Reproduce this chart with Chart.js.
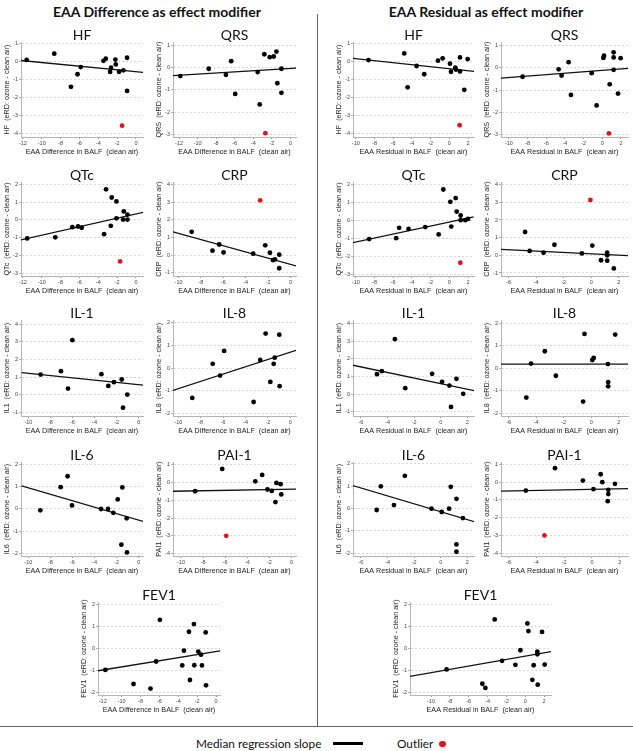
<!DOCTYPE html>
<html>
<head>
<meta charset="utf-8">
<script src="https://cdn.jsdelivr.net/npm/chart.js@4.4.1/dist/chart.umd.min.js"></script>
<style>
  html, body { margin: 0; padding: 0; background: #fff; }
  #page { position: relative; width: 633px; height: 751px; overflow: hidden; font-family: Lato, 'Liberation Sans', sans-serif; color: #111; }
  #page canvas { position: absolute; }
  .heading { position: absolute; top: 3px; width: 300px; text-align: center; font-weight: 700; font-size: 14px; }
  .vline { position: absolute; left: 317px; top: 14px; width: 1px; height: 713px; background: #666; }
  .hline { position: absolute; left: 0; top: 726px; width: 633px; height: 1px; background: #666; }
  .legend span { position: absolute; }
  .legend .txt { top: 735px; font-size: 11.8px; line-height: 17px; }
  .legend .bar { left: 333px; top: 742px; width: 30px; height: 3px; background: #000; }
  .legend .dot { left: 439px; top: 740.5px; width: 6.5px; height: 6.5px; border-radius: 50%; background: #e3131b; }
</style>
</head>
<body>
<div id="page">
  <div class="heading" style="left:7px">EAA Difference as effect modifier</div>
  <div class="heading" style="left:336px">EAA Residual as effect modifier</div>
  <div class="vline"></div>
  <div class="hline"></div>
  <div class="legend">
    <span class="txt" style="left:196px">Median regression slope</span>
    <span class="bar"></span>
    <span class="txt" style="left:397px">Outlier</span>
    <span class="dot"></span>
  </div>
</div>
<script>
// Tick values
const xTicksDiff12 = [-12, -10, -8, -6, -4, -2, 0];
const xTicksDiff10 = [-10, -8, -6, -4, -2, 0];
const xTicksRes10 = [-10, -8, -6, -4, -2, 0, 2];
const xTicksRes6 = [-6, -4, -2, 0, 2];
const yTicks4to1 = [-4, -3, -2, -1, 0, 1];
const yTicks3to1 = [-3, -2, -1, 0, 1];
const yTicks3to2 = [-3, -2, -1, 0, 1, 2];
const yTicks1to4 = [-1, 0, 1, 2, 3, 4];
const yTicks2to2 = [-2, -1, 0, 1, 2];

const diffLabel = 'EAA Difference in BALF  (clean air)';
const resLabel = 'EAA Residual in BALF  (clean air)';

// HF
const hfDiffX = [-11.6, -8.67, -6.9, -6.2, -5.86, -3.45, -3.2, -2.64, -2.74, -2.18, -2.14, -1.79, -1.33, -0.94, -0.94];
const hfDiffY = [0.1, 0.45, -1.4, -0.7, -0.3, 0.05, 0.17, -0.33, -0.57, 0.12, -0.15, -0.56, -0.48, 0.22, -1.63];
const hfDiffOutX = [-1.47], hfDiffOutY = [-3.57];
const hfDiffFitX = [-12.25, 0.8], hfDiffFitY = [0.07, -0.6];
const hfResX = [-8.64, -4.82, -4.46, -3.5, -2.68, -1.21, -0.71, 0.07, 0.18, 0.64, 0.71, 1.14, 1.14, 1.6, 1.96];
const hfResY = [0.09, 0.46, -1.43, -0.24, -0.7, 0.06, 0.19, -0.11, -0.56, -0.33, -0.44, -0.54, 0.24, -1.57, 0.15];
const hfResOutX = [1.1], hfResOutY = [-3.54];
const hfResFitX = [-10.64, 2.68], hfResFitY = [0.2, -0.54];

// QRS
const qrsDiffX = [-11.86, -8.8, -6.95, -6.38, -5.95, -3.53, -3.31, -2.81, -2.23, -1.8, -1.51, -1.41, -0.97, -0.97];
const qrsDiffY = [-0.39, -0.06, -0.33, 0.28, -1.19, -0.21, -1.66, 0.59, 0.46, 0.49, 0.71, -0.71, -0.06, -1.14];
const qrsDiffOutX = [-2.7], qrsDiffOutY = [-2.95];
const qrsDiffFitX = [-12.65, 0.6], qrsDiffFitY = [-0.37, -0.03];
const qrsResX = [-8.54, -4.68, -4.36, -3.61, -3.36, -1.14, -0.61, 0.18, 0.11, 0.79, 1.21, 1.21, 1.21, 1.68, 1.96];
const qrsResY = [-0.4, -0.07, -0.35, 0.25, -1.21, -0.24, -1.68, 0.54, 0.44, -0.74, 0.69, 0.46, -0.09, -1.15, 0.43];
const qrsResOutX = [0.71], qrsResOutY = [-2.93];
const qrsResFitX = [-10.86, 2.75], qrsResFitY = [-0.46, -0.03];

// QTc
const qtcDiffX = [-11.54, -8.56, -6.75, -6.15, -5.76, -3.38, -3.17, -2.67, -2.57, -2.07, -2.07, -1.29, -1.36, -0.9, -0.9];
const qtcDiffY = [-1.04, -0.98, -0.41, -0.37, -0.44, -0.8, 1.72, -0.33, 1.26, 1.04, 0.09, 0.48, 0.02, 0.3, 0.02];
const qtcDiffOutX = [-1.68], qtcDiffOutY = [-2.33];
const qtcDiffFitX = [-12.25, 0.8], qtcDiffFitY = [-1.13, 0.43];
const qtcResX = [-8.57, -5.68, -5.36, -4.36, -2.57, -1.14, -0.64, 0.11, 0.21, 0.68, 0.79, 1.21, 1.21, 1.71, 2.0];
const qtcResY = [-1.04, -0.99, -0.41, -0.47, -0.37, -0.78, 1.73, 1.04, -0.34, 1.25, 0.5, 0.28, 0.02, 0.02, 0.09];
const qtcResOutX = [1.18], qtcResOutY = [-2.36];
const qtcResFitX = [-10.7, 2.6], qtcResFitY = [-1.28, 0.2];

// CRP
const crpDiffX = [-8.83, -6.97, -6.37, -5.98, -3.33, -2.25, -1.83, -1.55, -1.38, -1.0, -1.0];
const crpDiffY = [1.32, 0.25, 0.6, 0.15, 0.08, 0.55, 0.13, -0.29, -0.25, 0.02, -0.75];
const crpDiffOutX = [-2.7], crpDiffOutY = [3.11];
const crpDiffFitX = [-10.5, 0.5], crpDiffFitY = [1.32, -0.62];
const crpResX = [-4.8, -4.47, -3.46, -2.67, -0.68, 0.08, 1.16, 1.16, 0.71, 1.16, 1.64];
const crpResY = [1.32, 0.25, 0.15, 0.6, 0.11, 0.55, 0.15, 0.0, -0.28, -0.3, -0.74];
const crpResOutX = [-0.06], crpResOutY = [3.13];
const crpResFitX = [-6.55, 2.67], crpResFitY = [0.34, -0.02];

// IL-1
const il1DiffX = [-8.88, -7.04, -6.4, -6.01, -3.38, -2.75, -2.24, -1.54, -1.03, -1.42];
const il1DiffY = [1.15, 1.34, 0.36, 3.09, 1.17, 0.51, 0.72, 0.87, 0.02, -0.72];
const il1DiffFitX = [-10.6, 0.48], il1DiffFitY = [1.26, 0.55];
const il1ResX = [-4.8, -4.43, -3.45, -2.67, -0.65, 0.1, 0.65, 1.18, 1.69, 0.77];
const il1ResY = [1.13, 1.3, 3.11, 0.34, 1.15, 0.7, 0.49, 0.87, 0.02, -0.72];
const il1ResFitX = [-6.75, 2.55], il1ResFitY = [1.66, 0.19];

// IL-8
const il8DiffX = [-8.75, -6.93, -6.27, -5.91, -3.28, -2.69, -2.21, -1.79, -1.49, -1.4, -0.99, -0.96];
const il8DiffY = [-1.32, 0.19, -0.33, 0.76, -1.5, 0.36, 1.53, -0.61, 0.19, 0.46, 1.48, -0.8];
const il8DiffFitX = [-10.5, 0.5], il8DiffFitY = [-0.99, 0.79];
const il8ResX = [-4.71, -4.37, -3.37, -2.57, -0.59, -0.49, 0.08, 0.18, 1.21, 1.23, 1.23, 1.74];
const il8ResY = [-1.3, 0.21, 0.76, -0.33, -1.48, 1.53, 0.37, 0.46, 0.19, -0.61, -0.8, 1.5];
const il8ResFitX = [-6.6, 2.7], il8ResFitY = [0.19, 0.19];

// IL-6
const il6DiffX = [-8.91, -7.07, -6.44, -6.04, -3.41, -2.78, -2.3, -1.9, -1.48, -1.09, -1.57, -1.06];
const il6DiffY = [-0.07, 0.97, 1.46, 0.15, -0.01, -0.01, -0.18, 0.42, 0.96, -0.43, -1.61, -1.96];
const il6DiffFitX = [-10.6, 0.48], il6DiffFitY = [1.03, -0.58];
const il6ResX = [-4.82, -4.51, -3.52, -2.7, -0.7, 0.07, 0.63, 0.75, 1.18, 1.66, 1.18, 1.18];
const il6ResY = [-0.07, 0.99, 0.15, 1.46, -0.01, -0.16, -0.01, 0.97, 0.43, -0.43, -1.61, -1.94];
const il6ResFitX = [-6.72, 2.55], il6ResFitY = [1.04, -0.6];

// PAI-1
const paiDiffX = [-8.72, -6.27, -3.28, -2.66, -2.18, -1.79, -1.46, -1.37, -0.99, -0.93];
const paiDiffY = [-0.49, 0.77, 0.07, 0.43, -0.39, -0.47, -1.1, -0.02, -0.09, -0.67];
const paiDiffOutX = [-5.91], paiDiffOutY = [-3.0];
const paiDiffFitX = [-10.72, 0.57], paiDiffFitY = [-0.49, -0.37];
const paiResX = [-4.76, -2.66, -0.65, 0.11, 0.63, 0.75, 1.18, 1.18, 1.14, 1.66];
const paiResY = [-0.47, 0.79, 0.09, -0.39, 0.45, 0.0, -0.43, -0.67, -1.07, -0.09];
const paiResOutX = [-3.42], paiResOutY = [-3.0];
const paiResFitX = [-6.72, 2.65], paiResFitY = [-0.5, -0.36];

// FEV1
const fevDiffX = [-11.72, -8.74, -6.94, -6.34, -5.95, -3.58, -3.4, -2.87, -2.76, -2.34, -2.3, -1.88, -1.59, -1.49, -1.1, -1.06];
const fevDiffY = [-0.98, -1.62, -1.83, -0.6, 1.29, -0.78, -0.11, 0.75, -1.44, 1.1, -0.77, -0.15, -0.29, -0.78, 0.72, -1.68];
const fevDiffFitX = [-12.5, 0.42], fevDiffFitY = [-1.02, -0.12];
const fevResX = [-8.34, -4.55, -4.23, -3.24, -2.46, -1.04, -0.51, 0.23, 0.34, 0.76, 0.9, 1.29, 1.29, 1.33, 1.79, 2.07];
const fevResY = [-0.96, -1.61, -1.8, 1.31, -0.57, -0.75, -0.09, 1.13, 0.78, -1.43, -0.77, -0.15, -0.27, -1.65, 0.74, -0.74];
const fevResFitX = [-12.3, 2.74], fevResFitY = [-1.28, -0.15];

// Panel layout: box = [plotLeft, plotRight, plotTop, plotBottom] in page px
const panels = [
  { title: 'HF', yName: 'HF', xTitle: diffLabel, x: hfDiffX, y: hfDiffY, outX: hfDiffOutX, outY: hfDiffOutY, fitX: hfDiffFitX, fitY: hfDiffFitY,
    xTicks: xTicksDiff12, yTicks: yTicks4to1, box: [21, 143, 42, 137], xr: [-12.2, 0.75], yr: [-4.2, 1.1] },
  { title: 'QRS', yName: 'QRS', xTitle: diffLabel, x: qrsDiffX, y: qrsDiffY, outX: qrsDiffOutX, outY: qrsDiffOutY, fitX: qrsDiffFitX, fitY: qrsDiffFitY,
    xTicks: xTicksDiff12, yTicks: yTicks3to1, box: [173, 296, 42, 137], xr: [-12.65, 0.6], yr: [-3.12, 1.14] },
  { title: 'HF', yName: 'HF', xTitle: resLabel, x: hfResX, y: hfResY, outX: hfResOutX, outY: hfResOutY, fitX: hfResFitX, fitY: hfResFitY,
    xTicks: xTicksRes10, yTicks: yTicks4to1, box: [353, 474, 42, 137], xr: [-10.3, 2.64], yr: [-4.2, 1.1] },
  { title: 'QRS', yName: 'QRS', xTitle: resLabel, x: qrsResX, y: qrsResY, outX: qrsResOutX, outY: qrsResOutY, fitX: qrsResFitX, fitY: qrsResFitY,
    xTicks: xTicksRes10, yTicks: yTicks3to1, box: [501, 628, 42, 137], xr: [-10.85, 2.75], yr: [-3.09, 1.15] },

  { title: 'QTc', yName: 'QTc', xTitle: diffLabel, x: qtcDiffX, y: qtcDiffY, outX: qtcDiffOutX, outY: qtcDiffOutY, fitX: qtcDiffFitX, fitY: qtcDiffFitY,
    xTicks: xTicksDiff12, yTicks: yTicks3to2, box: [21, 143, 182, 276], xr: [-12.2, 0.75], yr: [-3.15, 2.13] },
  { title: 'CRP', yName: 'CRP', xTitle: diffLabel, x: crpDiffX, y: crpDiffY, outX: crpDiffOutX, outY: crpDiffOutY, fitX: crpDiffFitX, fitY: crpDiffFitY,
    xTicks: xTicksDiff10, yTicks: yTicks1to4, box: [173, 296, 182, 276], xr: [-10.5, 0.5], yr: [-1.19, 4.15] },
  { title: 'QTc', yName: 'QTc', xTitle: resLabel, x: qtcResX, y: qtcResY, outX: qtcResOutX, outY: qtcResOutY, fitX: qtcResFitX, fitY: qtcResFitY,
    xTicks: xTicksRes10, yTicks: yTicks3to2, box: [353, 474, 182, 276], xr: [-10.3, 2.64], yr: [-3.1, 2.15] },
  { title: 'CRP', yName: 'CRP', xTitle: resLabel, x: crpResX, y: crpResY, outX: crpResOutX, outY: crpResOutY, fitX: crpResFitX, fitY: crpResFitY,
    xTicks: xTicksRes6, yTicks: yTicks1to4, box: [501, 628, 182, 276], xr: [-6.55, 2.67], yr: [-1.17, 4.15] },

  { title: 'IL-1', yName: 'IL1', xTitle: diffLabel, x: il1DiffX, y: il1DiffY, fitX: il1DiffFitX, fitY: il1DiffFitY,
    xTicks: xTicksDiff10, yTicks: yTicks1to4, box: [21, 143, 320, 416], xr: [-10.66, 0.39], yr: [-1.19, 4.23] },
  { title: 'IL-8', yName: 'IL8', xTitle: diffLabel, x: il8DiffX, y: il8DiffY, fitX: il8DiffFitX, fitY: il8DiffFitY,
    xTicks: xTicksDiff10, yTicks: yTicks2to2, box: [173, 296, 320, 416], xr: [-10.47, 0.5], yr: [-2.12, 2.13] },
  { title: 'IL-1', yName: 'IL1', xTitle: resLabel, x: il1ResX, y: il1ResY, fitX: il1ResFitX, fitY: il1ResFitY,
    xTicks: xTicksRes6, yTicks: yTicks1to4, box: [353, 474, 320, 416], xr: [-6.6, 2.5], yr: [-1.23, 4.19] },
  { title: 'IL-8', yName: 'IL8', xTitle: resLabel, x: il8ResX, y: il8ResY, fitX: il8ResFitX, fitY: il8ResFitY,
    xTicks: xTicksRes6, yTicks: yTicks2to2, box: [501, 628, 320, 416], xr: [-6.55, 2.67], yr: [-2.12, 2.15] },

  { title: 'IL-6', yName: 'IL6', xTitle: diffLabel, x: il6DiffX, y: il6DiffY, fitX: il6DiffFitX, fitY: il6DiffFitY,
    xTicks: xTicksDiff10, yTicks: yTicks2to2, box: [21, 143, 462, 556], xr: [-10.66, 0.39], yr: [-2.12, 2.1] },
  { title: 'PAI-1', yName: 'PAI1', xTitle: diffLabel, x: paiDiffX, y: paiDiffY, outX: paiDiffOutX, outY: paiDiffOutY, fitX: paiDiffFitX, fitY: paiDiffFitY,
    xTicks: xTicksDiff10, yTicks: yTicks4to1, box: [173, 296, 462, 556], xr: [-10.72, 0.4], yr: [-4.14, 1.16] },
  { title: 'IL-6', yName: 'IL6', xTitle: resLabel, x: il6ResX, y: il6ResY, fitX: il6ResFitX, fitY: il6ResFitY,
    xTicks: xTicksRes6, yTicks: yTicks2to2, box: [353, 474, 462, 556], xr: [-6.6, 2.5], yr: [-2.13, 2.08] },
  { title: 'PAI-1', yName: 'PAI1', xTitle: resLabel, x: paiResX, y: paiResY, outX: paiResOutX, outY: paiResOutY, fitX: paiResFitX, fitY: paiResFitY,
    xTicks: xTicksRes6, yTicks: yTicks4to1, box: [501, 628, 462, 556], xr: [-6.55, 2.6], yr: [-4.16, 1.14] },

  { title: 'FEV1', yName: 'FEV1', xTitle: diffLabel, x: fevDiffX, y: fevDiffY, fitX: fevDiffFitX, fitY: fevDiffFitY,
    xTicks: xTicksDiff12, yTicks: yTicks2to2, box: [98, 220, 602, 695], xr: [-12.5, 0.42], yr: [-2.12, 2.1] },
  { title: 'FEV1', yName: 'FEV1', xTitle: resLabel, x: fevResX, y: fevResY, fitX: fevResFitX, fitY: fevResFitY,
    xTicks: xTicksRes10, yTicks: yTicks2to2, box: [410, 551, 602, 695], xr: [-12.23, 2.74], yr: [-2.12, 2.1] }
];

// draws the panel name just above the plot area, centred on it
const panelTitle = {
  id: 'panelTitle',
  afterDraw(chart, args, opts) {
    const { ctx, chartArea } = chart;
    ctx.save();
    ctx.font = '14px Lato, sans-serif';
    ctx.fillStyle = '#111';
    ctx.textAlign = 'center';
    ctx.textBaseline = 'alphabetic';
    ctx.fillText(opts.text, (chartArea.left + chartArea.right) / 2, chartArea.top - 2);
    ctx.restore();
  }
};

function toPoints(xs, ys) {
  return xs.map((x, i) => ({ x: x, y: ys[i] }));
}

const tickFont = { size: 5.5, family: "'Liberation Sans', Arial, sans-serif" };
const titleFont = { size: 7.2, family: "'Liberation Sans', Arial, sans-serif" };

function makePanel(p) {
  const [left, right, top, bottom] = p.box;
  const canvas = document.createElement('canvas');
  canvas.width = right - left + 25;
  canvas.height = bottom - top + 40;
  canvas.style.left = (left - 21) + 'px';
  canvas.style.top = (top - 20) + 'px';
  document.getElementById('page').appendChild(canvas);

  const datasets = [{
    data: toPoints(p.x, p.y),
    backgroundColor: '#000', borderColor: '#000', pointRadius: 2.4, borderWidth: 0
  }];
  if (p.outX) {
    datasets.push({
      data: toPoints(p.outX, p.outY),
      backgroundColor: '#e3131b', borderColor: '#e3131b', pointRadius: 2.4, borderWidth: 0
    });
  }
  datasets.push({
    data: toPoints(p.fitX, p.fitY),
    showLine: true, borderColor: '#111', borderWidth: 1.3, pointRadius: 0
  });

  new Chart(canvas, {
    type: 'scatter',
    data: { datasets: datasets },
    plugins: [panelTitle],
    options: {
      responsive: false,
      animation: false,
      events: [],
      layout: { padding: { top: 20, right: 4, left: 0, bottom: 0 } },
      plugins: {
        legend: { display: false },
        tooltip: { enabled: false },
        panelTitle: { text: p.title }
      },
      scales: {
        x: {
          type: 'linear', min: p.xr[0], max: p.xr[1],
          afterBuildTicks: s => { s.ticks = p.xTicks.map(v => ({ value: v })); },
          afterFit: s => { s.height = 20; },
          grid: { drawOnChartArea: false, tickLength: 2, tickColor: '#9a9a9a' },
          border: { color: '#b5b5b5' },
          ticks: { font: tickFont, color: '#444', padding: 1, maxRotation: 0, autoSkip: false },
          title: { display: true, text: p.xTitle, font: titleFont, color: '#222', padding: { top: 0, bottom: 1 } }
        },
        y: {
          type: 'linear', min: p.yr[0], max: p.yr[1],
          afterBuildTicks: s => { s.ticks = p.yTicks.map(v => ({ value: v })); },
          afterFit: s => { s.width = 21; },
          grid: { color: '#cfcfcf', lineWidth: 0.8, tickLength: 2, tickColor: '#9a9a9a' },
          border: { color: '#b5b5b5', dash: [2, 2] },
          ticks: { font: tickFont, color: '#444', padding: 1, autoSkip: false },
          title: { display: true, text: p.yName + '  (eRD: ozone - clean air)', font: titleFont, color: '#222', padding: { top: 3, bottom: 0 } }
        }
      }
    }
  });
}

panels.forEach(makePanel);
</script>
</body>
</html>
